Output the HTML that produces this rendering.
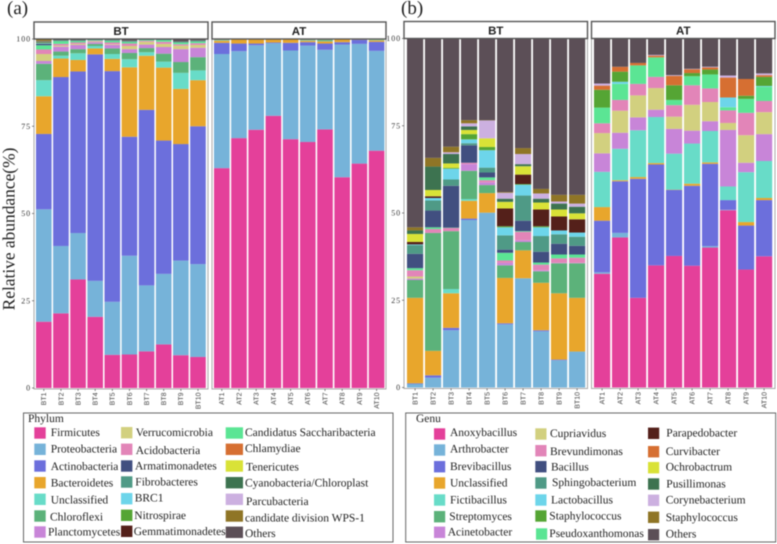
<!DOCTYPE html>
<html lang="en">
<head>
<meta charset="utf-8">
<title>Relative abundance stacked bars</title>
<style>
  html, body { margin: 0; padding: 0; background: #fff; }
  #chart { display: block; width: 777px; height: 544px; filter: blur(0.45px); text-rendering: geometricPrecision; }
  .serif { font-family: "Liberation Serif", serif; }
  .sans { font-family: "Liberation Sans", sans-serif; }
  .leg { font-family: "Liberation Serif", serif; font-size: 11.5px; fill: #222; }
</style>
</head>
<body>
<svg id="chart" xmlns="http://www.w3.org/2000/svg" width="777" height="544" viewBox="0 0 777 544">
  <rect width="777" height="544" fill="#fff"/>
  <g id="plots"></g>

  <text class="serif" x="7" y="14" font-size="19" fill="#222">(a)</text>
  <text class="serif" x="401" y="14" font-size="19" fill="#222">(b)</text>
  <text class="serif" transform="translate(14.5,229) rotate(-90)" text-anchor="middle" font-size="17.4" fill="#222">Relative abundance(%)</text>

  <g>
    <rect x="23.5" y="413" width="369.5" height="129" fill="#fff" stroke="#666" stroke-width="1"/>
    <text class="leg" x="28" y="422">Phylum</text>
    <rect x="34.3" y="427.3" width="11.4" height="11.4" fill="#e4409a"/>
    <text class="leg" x="50.7" y="436">Firmicutes</text>
    <rect x="34.3" y="443.6" width="11.4" height="11.4" fill="#76b3d9"/>
    <text class="leg" x="50.7" y="452.7">Proteobacteria</text>
    <rect x="34.3" y="460.3" width="11.4" height="11.4" fill="#6c6fdc"/>
    <text class="leg" x="50.7" y="470">Actinobacteria</text>
    <rect x="34.3" y="477" width="11.4" height="11.4" fill="#e8a62c"/>
    <text class="leg" x="50.7" y="486.7">Bacteroidetes</text>
    <rect x="34.3" y="493.6" width="11.4" height="11.4" fill="#68dcc8"/>
    <text class="leg" x="50.7" y="503.7">Unclassified</text>
    <rect x="34.3" y="510.3" width="11.4" height="11.4" fill="#5cb27a"/>
    <text class="leg" x="50" y="520.3">Chloroflexi</text>
    <rect x="34.3" y="526.3" width="11.4" height="11.4" fill="#c885d8"/>
    <text class="leg" x="48" y="535.7">Planctomycetes</text>

    <rect x="121" y="427" width="11.4" height="11.4" fill="#d2d07f"/>
    <text class="leg" x="135.7" y="436">Verrucomicrobia</text>
    <rect x="121" y="443.6" width="11.4" height="11.4" fill="#e285b8"/>
    <text class="leg" x="135.7" y="454">Acidobacteria</text>
    <rect x="121" y="460.3" width="11.4" height="11.4" fill="#414f80"/>
    <text class="leg" x="135" y="469.7">Armatimonadetes</text>
    <rect x="121" y="476.3" width="11.4" height="11.4" fill="#4f9a86"/>
    <text class="leg" x="135.3" y="485.3">Fibrobacteres</text>
    <rect x="121" y="493" width="11.4" height="11.4" fill="#6dd5ea"/>
    <text class="leg" x="134.7" y="501.7">BRC1</text>
    <rect x="121" y="509.6" width="11.4" height="11.4" fill="#55a534"/>
    <text class="leg" x="134.3" y="519">Nitrospirae</text>
    <rect x="121" y="525.6" width="11.4" height="11.4" fill="#54201a"/>
    <text class="leg" x="133.7" y="535">Gemmatimonadetes</text>

    <rect x="225.7" y="427.3" width="17.3" height="11.4" fill="#5be594"/>
    <text class="leg" x="245" y="436">Candidatus Saccharibacteria</text>
    <rect x="225.7" y="443.6" width="17.3" height="11.4" fill="#d66f32"/>
    <text class="leg" x="245" y="452">Chlamydiae</text>
    <rect x="225.7" y="460.3" width="17.3" height="11.4" fill="#d9e237"/>
    <text class="leg" x="246" y="470.7">Tenericutes</text>
    <rect x="225.7" y="477" width="17.3" height="11.4" fill="#3d7350"/>
    <text class="leg" x="245" y="486.7">Cyanobacteria/Chloroplast</text>
    <rect x="225.7" y="493.6" width="17.3" height="11.4" fill="#ccb0e0"/>
    <text class="leg" x="246" y="505">Parcubacteria</text>
    <rect x="225.7" y="510.3" width="17.3" height="11.4" fill="#8f7526"/>
    <text class="leg" x="245" y="521.3">candidate division WPS-1</text>
    <rect x="225.7" y="526.6" width="17.3" height="11.4" fill="#5c4f57"/>
    <text class="leg" x="245" y="537">Others</text>
  </g>

  <g>
    <rect x="405.7" y="413" width="370" height="129" fill="#fff" stroke="#666" stroke-width="1"/>
    <text class="leg" x="416" y="422">Genu</text>
    <rect x="434" y="428.3" width="11.2" height="11.4" fill="#e4409a"/>
    <text class="leg" x="450" y="436">Anoxybacillus</text>
    <rect x="434" y="444.3" width="11.2" height="11.4" fill="#76b3d9"/>
    <text class="leg" x="450" y="452.7">Arthrobacter</text>
    <rect x="434" y="461" width="11.2" height="11.4" fill="#6c6fdc"/>
    <text class="leg" x="450" y="470">Brevibacillus</text>
    <rect x="434" y="477.3" width="11.2" height="11.4" fill="#e8a62c"/>
    <text class="leg" x="450" y="486.7">Unclassified</text>
    <rect x="434" y="494.3" width="11.2" height="11.4" fill="#68dcc8"/>
    <text class="leg" x="450" y="503.7">Fictibacillus</text>
    <rect x="434" y="511" width="11.2" height="11.4" fill="#5cb27a"/>
    <text class="leg" x="449.3" y="520">Streptomyces</text>
    <rect x="434" y="526.6" width="11.2" height="11.4" fill="#c885d8"/>
    <text class="leg" x="447.7" y="535.7">Acinetobacter</text>

    <rect x="535.3" y="428.3" width="11.2" height="11.4" fill="#d2d07f"/>
    <text class="leg" x="550" y="437">Cupriavidus</text>
    <rect x="535.3" y="445" width="11.2" height="11.4" fill="#e285b8"/>
    <text class="leg" x="550" y="455">Brevundimonas</text>
    <rect x="535.3" y="461" width="11.2" height="11.4" fill="#414f80"/>
    <text class="leg" x="551" y="470.7">Bacillus</text>
    <rect x="535.3" y="477.3" width="11.2" height="11.4" fill="#4f9a86"/>
    <text class="leg" x="552" y="486">Sphingobacterium</text>
    <rect x="535.3" y="494.3" width="11.2" height="11.4" fill="#6dd5ea"/>
    <text class="leg" x="551" y="503.7">Lactobacillus</text>
    <rect x="535.3" y="510.3" width="11.2" height="11.4" fill="#55a534"/>
    <text class="leg" x="549.3" y="519.3">Staphylococcus</text>
    <rect x="536" y="528.3" width="11.2" height="11.4" fill="#5be594"/>
    <text class="leg" x="549.3" y="537">Pseudoxanthomonas</text>

    <rect x="648" y="427.6" width="11.2" height="11.4" fill="#54201a"/>
    <text class="leg" x="666.3" y="436.7">Parapedobacter</text>
    <rect x="648" y="446" width="11.2" height="11.4" fill="#d66f32"/>
    <text class="leg" x="665.7" y="455">Curvibacter</text>
    <rect x="648" y="462" width="11.2" height="11.4" fill="#d9e237"/>
    <text class="leg" x="665.7" y="470.7">Ochrobactrum</text>
    <rect x="648" y="478.3" width="11.2" height="11.4" fill="#3d7350"/>
    <text class="leg" x="666.3" y="487.3">Pusillimonas</text>
    <rect x="648" y="494.6" width="11.2" height="11.4" fill="#ccb0e0"/>
    <text class="leg" x="665.7" y="503.7">Corynebacterium</text>
    <rect x="648" y="511.6" width="11.2" height="11.4" fill="#8f7526"/>
    <text class="leg" x="665.7" y="521">Staphylococcus</text>
    <rect x="648" y="529" width="11.2" height="11.4" fill="#5c4f57"/>
    <text class="leg" x="665.7" y="537.7">Others</text>
  </g>
</svg>

<script>
// ---------- data ----------
const btSamples = ["BT1","BT2","BT3","BT4","BT5","BT6","BT7","BT8","BT9","BT10"];
const atSamples = ["AT1","AT2","AT3","AT4","AT5","AT6","AT7","AT8","AT9","AT10"];
const yTickLabels = [0, 25, 50, 75, 100];

const phylumNames = ["Firmicutes","Proteobacteria","Actinobacteria","Bacteroidetes","Unclassified","Chloroflexi","Planctomycetes","Verrucomicrobia","Acidobacteria","Candidatus Saccharibacteria","Armatimonadetes","Fibrobacteres","BRC1","Nitrospirae","Gemmatimonadetes","Chlamydiae","Tenericutes","Cyanobacteria/Chloroplast","Parcubacteria","candidate division WPS-1","Others"];
const genusNames = ["Anoxybacillus","Arthrobacter","Brevibacillus","Unclassified","Fictibacillus","Streptomyces","Acinetobacter","Cupriavidus","Brevundimonas","Pseudoxanthomonas","Bacillus","Sphingobacterium","Lactobacillus","Staphylococcus","Parapedobacter","Curvibacter","Ochrobactrum","Pusillimonas","Corynebacterium","Staphylococcus (olive)","Others"];

// rows follow phylumNames, columns follow btSamples (percent of each sample)
const phylumBT = [
  [19,21.4,31.1,20.4,9.5,9.6,10.5,12.5,9.4,8.9],
  [32.2,19.3,13.3,10.3,15.2,28.3,18.9,20.2,27.1,26.6],
  [21.6,48.4,46.3,64.9,66.1,34.1,50.3,38.2,33.4,39.5],
  [10.8,5.3,3.3,1.7,3.5,19.9,15.5,20.9,15.8,13.2],
  [4.6,0.8,1.9,0.7,1.4,2.3,1,1.7,4.6,2.8],
  [4.7,1.2,1.2,0.6,1.6,1.8,1.2,2.3,3.1,3.8],
  [0.8,1.4,1.2,0.5,1,1.1,1,1.9,3.7,2.7],
  [2,0.3,0.3,0.2,0.2,0.9,0.8,0.9,1,0.8],
  [1.3,0.5,0.4,0.2,0.5,0.7,0.3,0.6,0.4,0.5],
  [1.2,0.8,0.4,0.2,0.5,0.5,0.3,0.5,0.5,0.5],
  [0.4,0.1,0.1,0.1,0.1,0.1,0.1,0.1,0.1,0.1],
  [0.2,0.1,0.1,0,0.1,0.1,0,0.1,0.1,0.1],
  [0.1,0,0,0,0,0,0,0,0,0],
  [0.1,0,0,0,0,0,0,0,0,0],
  [0.1,0,0,0,0,0,0,0,0,0],
  [0,0,0,0,0,0,0,0,0,0],
  [0,0,0,0,0,0,0,0,0,0],
  [0.2,0.1,0.1,0.1,0.1,0.1,0.1,0.1,0.1,0.1],
  [0.1,0,0,0,0,0,0,0,0,0],
  [0.5,0,0,0,0,0,0,0,0,0],
  [0.1,0.3,0.3,0.1,0.2,0.5,0,0,0.7,0.4]
];

// rows follow phylumNames, columns follow atSamples
const phylumAT = [
  [63,71.6,74,78,71.3,70.5,74.1,60.4,64.3,68],
  [32.7,24.9,24.2,20.8,25.4,27.6,22.8,38,34.3,28.6],
  [3.2,2.2,0.5,0.2,2.2,1,1.8,0.7,1.2,2.6],
  [0.6,1.2,1.2,0.9,1,0.4,0.6,0.8,0.1,0.4],
  [0.1,0,0,0,0,0.1,0.1,0,0,0.1],
  [0.1,0,0,0,0,0.1,0.3,0,0.1,0.1],
  [0,0,0,0,0,0,0,0,0,0],
  [0.1,0,0,0,0,0.1,0.1,0,0,0.1],
  [0,0,0,0,0,0,0,0,0,0.1],
  [0,0,0,0,0,0,0,0,0,0],
  [0,0,0,0,0,0,0,0,0,0],
  [0,0,0,0,0,0,0,0,0,0],
  [0,0,0,0,0,0,0,0,0,0],
  [0,0,0,0,0,0,0,0,0,0],
  [0,0,0,0,0,0,0,0,0,0],
  [0,0,0,0,0,0,0,0,0,0],
  [0,0,0,0,0,0,0,0,0,0],
  [0,0,0,0,0,0,0,0,0,0],
  [0,0,0,0,0,0,0,0,0,0],
  [0,0,0,0,0,0,0,0,0,0],
  [0.2,0.1,0.1,0.1,0.1,0.2,0.1,0.1,0.3,0]
];

// rows follow genusNames, columns follow btSamples
const genusBT = [
  [0,0,0,0,0,0,0,0,0,0],
  [1,2.8,16.4,48,50.1,18.1,31.3,16.1,7.8,10.3],
  [0.2,0.7,0.7,0.4,0,0.3,0,0.3,0.2,0],
  [24.5,7,9.9,5.1,5.6,13,8,13.6,19,15.4],
  [0,0,1.2,0.5,0,0,0,0,0,0],
  [5.1,33.8,16.6,8.1,2.3,3.6,2.4,3.3,8.6,9.9],
  [0.4,0,0,1.9,0.8,0.7,0.5,0.3,0.1,0.1],
  [0.6,0,0,0,0,0,0,0,0,0],
  [1.8,1.1,0.9,0.4,0.6,0.7,2.4,1.6,1.3,1.5],
  [0.6,0.5,0.1,0,0.8,2.2,0.2,0.6,1.1,0.9],
  [4.1,4.8,12,5,1.4,0.9,3,3.1,3.1,2.5],
  [2.5,2.9,1.8,0.6,1.4,4.1,7.2,4.5,2.7,2.6],
  [0.2,0.7,3.1,1.1,5,2.3,3.1,2.5,1.1,1.2],
  [0,0,0.2,1.5,0.9,0.3,0.2,0.3,0,0],
  [0.7,0.5,0,0,0,5.1,2.7,4.8,4,3.8],
  [0,0,0,0,0,0,0,0,0,0],
  [2.3,1.8,1.3,1.2,2.5,1.9,2.4,2,2,1.7],
  [1,6.7,2.7,1,0,0.9,0.6,1.1,1.7,1.9],
  [0,0,0.5,0.9,5.1,1.7,2.9,1.5,0.6,0.9],
  [0.9,2.5,1.6,0.9,0.1,0.2,1.7,1.3,1.9,2.5],
  [54.1,34.2,31,23.4,23.4,44,31.4,43.1,44.8,44.8]
];

// rows follow genusNames, columns follow atSamples
const genusAT = [
  [32.6,43,25.7,35,37.7,34.9,40.1,50.8,33.8,37.6],
  [0.4,1.3,0,0,0,0,0.4,0.1,0,0],
  [14.8,14.8,34.1,28.9,18.9,22.9,23.6,2.8,12.6,16.1],
  [3.9,0.3,0.5,0.4,0.1,0.6,0.4,0,1,0.6],
  [10.1,9,13.4,13.2,10.3,11.5,9,3.9,14.3,10.6],
  [0,0,0,0,0,0,0,0,0,0],
  [5.3,4.6,3.7,2.1,7.1,3.7,2.8,16.2,2.7,7.7],
  [5.8,6.3,6.3,6.2,3.5,7.4,5.5,2,7.9,6.3],
  [2.8,3.1,3.3,3.2,3.3,5.6,3.9,3.6,6.4,3.2],
  [4.5,4.6,5.3,5.6,1.5,2.6,4,0.9,4,4.1],
  [0,0,0,0,0,0,0,0,0,0],
  [0,0,0,0,0,0,0,0,0,0],
  [0,0.6,0,0,0,0,0,2.8,0,0.2],
  [5.1,2.9,0,0,4.2,0.9,1.4,0,0.9,2.6],
  [0,0,0,0,0,0,0,0,0,0],
  [1.2,1.4,0.7,0.5,2.7,1.1,0.6,5.7,4.8,0.5],
  [0,0,0,0,0,0,0,0,0,0],
  [0,0,0,0,0,0,0,0,0,0],
  [0.6,0,0,0.2,0.2,0.1,0.2,0.6,0,0.5],
  [0,0,0,0,0,0,0,0,0,0],
  [12.9,8,7,4.7,10.5,8.7,8.1,10.6,11.6,10]
];

// ---------- styles (not data) ----------
const phylumFill = ["#e4409a","#76b3d9","#6c6fdc","#e8a62c","#68dcc8","#5cb27a","#c885d8","#d2d07f","#e285b8","#5be594","#414f80","#4f9a86","#6dd5ea","#55a534","#54201a","#d66f32","#d9e237","#3d7350","#ccb0e0","#8f7526","#5c4f57"];
const genusFill = ["#e4409a","#76b3d9","#6c6fdc","#e8a62c","#68dcc8","#5cb27a","#c885d8","#d2d07f","#e285b8","#5be594","#414f80","#4f9a86","#6dd5ea","#55a534","#54201a","#d66f32","#d9e237","#3d7350","#ccb0e0","#8f7526","#5c4f57"];

// ---------- drawing ----------
const NS = "http://www.w3.org/2000/svg";
const root = document.getElementById("plots");

function make(tag, attrs, parent) {
  const el = document.createElementNS(NS, tag);
  for (const k in attrs) el.setAttribute(k, attrs[k]);
  parent.appendChild(el);
  return el;
}

function yAxisScale(base) {
  return function (v) { return base - v * 3.49; };
}

function bandScale(start, step) {
  return function (i) { return start + i * step; };
}

function drawYAxis(right, base, prefix) {
  const y = yAxisScale(base);
  yTickLabels.forEach(function (t) {
    const tick = make("line", { x1: right + 1, x2: right + 3, y1: y(t), y2: y(t), stroke: "#555", "stroke-width": 0.7 }, root);
    
    
    const label = make("text", { x: right, y: y(t) + 2.6, "text-anchor": "end", "font-size": 8, "letter-spacing": 0.9, fill: "#333", "class": "serif" }, root);
    
    
    label.textContent = t;
  });
}

function drawPanel(opts) {
  const y = yAxisScale(opts.base);
  const x = bandScale(opts.start, opts.step);

  const frame = make("rect", { x: opts.left, y: opts.stripBottom, width: opts.right - opts.left, height: opts.base + 1 - opts.stripBottom, fill: "#fff", stroke: "#aaa", "stroke-width": 1 }, root);
  
  

  opts.samples.forEach(function (name, i) {
    let cum = 0;
    opts.rows.forEach(function (row, s) {
      const v = row[i];
      if (v > 0) {
        const seg = make("rect", { x: x(i), y: y(cum + v), width: opts.width, height: y(cum) - y(cum + v), fill: opts.fills[s] }, root);
        
        
        const tip = make("title", {}, seg);
        tip.textContent = name + " " + opts.series[s] + ": " + v + "%";
      }
      cum += v;
    });

    const cx = x(i) + opts.width / 2;
    const tick = make("line", { x1: cx, x2: cx, y1: opts.base + 1, y2: opts.base + 3, stroke: "#555", "stroke-width": 0.7 }, root);
    
    
    const label = make("text", { transform: "translate(" + (cx + 2.4) + "," + (opts.base + 4.5) + ") rotate(-90)", "text-anchor": "end", "font-size": 7, fill: "#444", "class": "sans" }, root);
    
    
    label.textContent = name;
  });

  const strip = make("rect", { x: opts.left, y: opts.stripBottom - 17, width: opts.right - opts.left, height: 17, fill: "#fff", stroke: "#555", "stroke-width": 1.4 }, root);
  
  
  const stripText = make("text", { x: (opts.left + opts.right) / 2, y: opts.stripBottom - 4, "text-anchor": "middle", "font-size": 11.5, "font-weight": "bold", fill: "#222", "class": "sans" }, root);
  
  
  stripText.textContent = opts.title;
}

drawPanel({ title: "BT", samples: btSamples, rows: phylumBT, series: phylumNames, fills: phylumFill, left: 34, right: 208, stripBottom: 39, base: 388, start: 36, step: 17.13, width: 15.6 });
drawPanel({ title: "AT", samples: atSamples, rows: phylumAT, series: phylumNames, fills: phylumFill, left: 212, right: 386, stripBottom: 39, base: 388, start: 214, step: 17.2, width: 15.6 });
drawPanel({ title: "BT", samples: btSamples, rows: genusBT, series: genusNames, fills: genusFill, left: 404, right: 587.5, stripBottom: 38.5, base: 387.5, start: 407, step: 18, width: 16.2 });
drawPanel({ title: "AT", samples: atSamples, rows: genusAT, series: genusNames, fills: genusFill, left: 591.5, right: 775, stripBottom: 38.5, base: 387.5, start: 594, step: 18, width: 16.2 });
drawYAxis(31, 388, "a");
drawYAxis(401, 387.5, "b");
</script>
</body>
</html>
